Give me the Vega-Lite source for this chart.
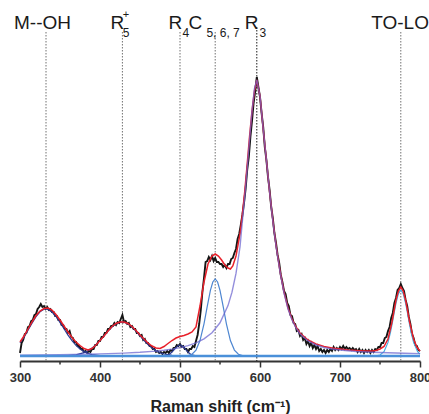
{
 "$schema": "https://vega.github.io/schema/vega-lite/v6.json",
 "width": 400, "height": 361,
 "autosize": {"type": "none"},
 "padding": {"left": 20, "top": 0, "right": 9, "bottom": 53},
 "background": "white",
 "config": {"view": {"stroke": null}, "font": "Liberation Sans"},
 "encoding": {
  "x": {"field": "x", "type": "quantitative", "scale": {"domain": [300, 800], "nice": false, "zero": false},
   "axis": {"values": [300, 400, 500, 600, 700, 800], "grid": false, "domainColor": "#333", "domainWidth": 2, "tickColor": "#333", "tickWidth": 1.5, "tickSize": 6,
    "labelFont": "Liberation Sans", "labelFontWeight": "bold", "labelFontSize": 13, "labelColor": "#333", "labelBaseline": "alphabetic", "labelPadding": 14.5, "labelFlush": false,
    "title": "Raman shift (cm⁻¹)", "titleFont": "Liberation Sans", "titleFontWeight": "bold", "titleFontSize": 16, "titleColor": "#222", "titleBaseline": "alphabetic", "titleY": 50.5}},
  "y": {"field": "y", "type": "quantitative", "scale": {"domain": [-5, 356], "nice": false, "zero": false}, "axis": null}
 },
 "datasets": {
  "assign": [
   {"x": 332.5, "y": 324, "y2": -5, "k": "a"},
   {"x": 428, "y": 324, "y2": -5, "k": "a"},
   {"x": 500, "y": 324, "y2": -5, "k": "a"},
   {"x": 544, "y": 324, "y2": -5, "k": "a"},
   {"x": 596, "y": 329, "y2": -5, "k": "b"},
   {"x": 776, "y": 324, "y2": -5, "k": "a"}
  ],
  "spectrum": [
   {"x":300,"y":3},{"x":302,"y":13},{"x":304,"y":16},{"x":306,"y":22},{"x":308,"y":23},{"x":310,"y":29},{"x":312,"y":30},{"x":314,"y":35},{"x":316,"y":36},{"x":318,"y":41},
   {"x":320,"y":42},{"x":322,"y":47},{"x":324,"y":49},{"x":326,"y":52},{"x":328,"y":49},{"x":330,"y":50},{"x":332,"y":47},{"x":334,"y":49},{"x":336,"y":46},{"x":338,"y":47},
   {"x":340,"y":44},{"x":342,"y":44},{"x":344,"y":40},{"x":346,"y":40},{"x":348,"y":36},{"x":350,"y":36},{"x":352,"y":31},{"x":354,"y":31},{"x":356,"y":27},{"x":358,"y":27},
   {"x":360,"y":23},{"x":362,"y":25},{"x":364,"y":19},{"x":366,"y":18},{"x":368,"y":14},{"x":370,"y":14},{"x":372,"y":10},{"x":374,"y":10},{"x":376,"y":7},{"x":378,"y":7},
   {"x":380,"y":4},{"x":382,"y":5},{"x":384,"y":3},{"x":386,"y":5},{"x":388,"y":4},{"x":390,"y":7},{"x":392,"y":7},{"x":394,"y":11},{"x":396,"y":11},{"x":398,"y":15},
   {"x":400,"y":15},{"x":402,"y":19},{"x":404,"y":19},{"x":406,"y":23},{"x":408,"y":23},{"x":410,"y":27},{"x":412,"y":27},{"x":414,"y":30},{"x":416,"y":30},{"x":418,"y":33},
   {"x":420,"y":31},{"x":422,"y":34},{"x":424,"y":33},{"x":426,"y":37},{"x":428,"y":41},{"x":430,"y":34},{"x":432,"y":35},{"x":434,"y":32},{"x":436,"y":33},{"x":438,"y":29},
   {"x":440,"y":30},{"x":442,"y":27},{"x":444,"y":27},{"x":446,"y":23},{"x":448,"y":23},{"x":450,"y":20},{"x":452,"y":21},{"x":454,"y":16},{"x":456,"y":17},{"x":458,"y":13},
   {"x":460,"y":13},{"x":462,"y":10},{"x":464,"y":10},{"x":466,"y":7},{"x":468,"y":7},{"x":470,"y":4},{"x":472,"y":5},{"x":474,"y":3},{"x":476,"y":4},{"x":478,"y":2},
   {"x":480,"y":4},{"x":482,"y":3},{"x":484,"y":5},{"x":486,"y":3},{"x":488,"y":6},{"x":490,"y":5},{"x":492,"y":8},{"x":494,"y":8},{"x":496,"y":11},{"x":498,"y":10},
   {"x":500,"y":12},{"x":502,"y":9},{"x":504,"y":10},{"x":506,"y":7},{"x":508,"y":7},{"x":510,"y":4},{"x":512,"y":7},{"x":514,"y":7},{"x":516,"y":10},{"x":518,"y":9},
   {"x":520,"y":15},{"x":522,"y":21},{"x":524,"y":32},{"x":526,"y":46},{"x":528,"y":64},{"x":530,"y":78},{"x":532,"y":94},{"x":534,"y":95},{"x":536,"y":99},{"x":538,"y":96},
   {"x":540,"y":100},{"x":542,"y":95},{"x":544,"y":98},{"x":546,"y":94},{"x":548,"y":94},{"x":550,"y":92},{"x":552,"y":92},{"x":554,"y":89},{"x":556,"y":91},{"x":558,"y":88},
   {"x":560,"y":92},{"x":562,"y":92},{"x":564,"y":97},{"x":566,"y":98},{"x":568,"y":103},{"x":570,"y":107},{"x":572,"y":117},{"x":574,"y":122},{"x":576,"y":131},{"x":578,"y":141},
   {"x":580,"y":153},{"x":582,"y":167},{"x":584,"y":186},{"x":586,"y":199},{"x":588,"y":219},{"x":590,"y":235},{"x":592,"y":253},{"x":594,"y":265},{"x":596,"y":279},{"x":598,"y":269},
   {"x":600,"y":259},{"x":602,"y":243},{"x":604,"y":229},{"x":606,"y":209},{"x":608,"y":196},{"x":610,"y":179},{"x":612,"y":166},{"x":614,"y":149},{"x":616,"y":138},{"x":618,"y":123},
   {"x":620,"y":113},{"x":622,"y":101},{"x":624,"y":93},{"x":626,"y":81},{"x":628,"y":74},{"x":630,"y":65},{"x":632,"y":62},{"x":634,"y":53},{"x":636,"y":50},{"x":638,"y":41},
   {"x":640,"y":40},{"x":642,"y":33},{"x":644,"y":32},{"x":646,"y":25},{"x":648,"y":26},{"x":650,"y":20},{"x":652,"y":22},{"x":654,"y":16},{"x":656,"y":18},{"x":658,"y":12},
   {"x":660,"y":15},{"x":662,"y":10},{"x":664,"y":13},{"x":666,"y":8},{"x":668,"y":11},{"x":670,"y":7},{"x":672,"y":10},{"x":674,"y":5},{"x":676,"y":7},{"x":678,"y":4},
   {"x":680,"y":6},{"x":682,"y":3},{"x":684,"y":6},{"x":686,"y":4},{"x":688,"y":7},{"x":690,"y":5},{"x":692,"y":9},{"x":694,"y":6},{"x":696,"y":8},{"x":698,"y":6},
   {"x":700,"y":9},{"x":702,"y":7},{"x":704,"y":10},{"x":706,"y":7},{"x":708,"y":9},{"x":710,"y":7},{"x":712,"y":8},{"x":714,"y":6},{"x":716,"y":8},{"x":718,"y":6},
   {"x":720,"y":7},{"x":722,"y":4},{"x":724,"y":7},{"x":726,"y":4},{"x":728,"y":6},{"x":730,"y":3},{"x":732,"y":6},{"x":734,"y":4},{"x":736,"y":6},{"x":738,"y":3},
   {"x":740,"y":6},{"x":742,"y":4},{"x":744,"y":7},{"x":746,"y":6},{"x":748,"y":9},{"x":750,"y":9},{"x":752,"y":13},{"x":754,"y":13},{"x":756,"y":18},{"x":758,"y":19},
   {"x":760,"y":25},{"x":762,"y":29},{"x":764,"y":38},{"x":766,"y":43},{"x":768,"y":53},{"x":770,"y":58},{"x":772,"y":66},{"x":774,"y":68},{"x":776,"y":72},{"x":778,"y":68},
   {"x":780,"y":65},{"x":782,"y":56},{"x":784,"y":50},{"x":786,"y":39},{"x":788,"y":32},{"x":790,"y":22},{"x":792,"y":18},{"x":794,"y":11},{"x":796,"y":10},{"x":798,"y":6},
   {"x":800,"y":5}
  ],
  "fit": [
   {"x":300,"y":14},{"x":305,"y":20},{"x":310,"y":27},{"x":315,"y":34},{"x":320,"y":40.5},{"x":325,"y":45},{"x":330,"y":47.5},{"x":335,"y":48},{"x":340,"y":46},{"x":345,"y":41.5},
   {"x":350,"y":36},{"x":355,"y":30},{"x":360,"y":24},{"x":365,"y":18.5},{"x":370,"y":14},{"x":375,"y":10.5},{"x":380,"y":7.5},{"x":385,"y":6},{"x":390,"y":7.5},{"x":395,"y":11},
   {"x":400,"y":15.5},{"x":405,"y":20},{"x":410,"y":25},{"x":415,"y":29.5},{"x":420,"y":32.5},{"x":425,"y":34},{"x":430,"y":34},{"x":435,"y":32.5},{"x":440,"y":29.5},{"x":445,"y":25.5},
   {"x":450,"y":21},{"x":455,"y":17},{"x":460,"y":13},{"x":465,"y":10},{"x":470,"y":8},{"x":475,"y":7.5},{"x":480,"y":9.5},{"x":485,"y":12.5},{"x":490,"y":15.5},{"x":495,"y":18},
   {"x":500,"y":19.5},{"x":505,"y":20.5},{"x":510,"y":22},{"x":515,"y":24},{"x":520,"y":29},{"x":525,"y":50},{"x":530,"y":74},{"x":535,"y":92},{"x":540,"y":100},{"x":544,"y":102},
   {"x":548,"y":100},{"x":552,"y":96},{"x":556,"y":91},{"x":560,"y":88},{"x":563,"y":87},{"x":566,"y":90},{"x":570,"y":100},{"x":575,"y":122},{"x":578,"y":142},{"x":581,"y":165},
   {"x":584,"y":192},{"x":587,"y":220},{"x":590,"y":245},{"x":593,"y":265},{"x":596,"y":276},{"x":600,"y":260},{"x":604,"y":227},{"x":608,"y":196},{"x":612,"y":164},{"x":616,"y":136},
   {"x":620,"y":111},{"x":625,"y":85},{"x":630,"y":64},{"x":635,"y":48},{"x":640,"y":37},{"x":645,"y":29},{"x":650,"y":23},{"x":660,"y":16},{"x":670,"y":12},{"x":680,"y":9.5},
   {"x":690,"y":8},{"x":700,"y":7},{"x":710,"y":6},{"x":720,"y":5.5},{"x":730,"y":5},{"x":740,"y":5},{"x":745,"y":5.5},{"x":750,"y":7},{"x":755,"y":9.5},{"x":760,"y":17},
   {"x":765,"y":34},{"x":770,"y":56},{"x":773,"y":65},{"x":776,"y":69},{"x":779,"y":65},{"x":782,"y":56},{"x":787,"y":34},{"x":792,"y":17},{"x":796,"y":9},{"x":800,"y":5}
  ],
  "comps": [
   {"x":300,"y":13.1,"peak":"P1"},{"x":305,"y":18.9,"peak":"P1"},{"x":310,"y":25.7,"peak":"P1"},{"x":315,"y":32.7,"peak":"P1"},{"x":320,"y":39.3,"peak":"P1"},{"x":325,"y":44.2,"peak":"P1"},
   {"x":330,"y":46.8,"peak":"P1"},{"x":332,"y":47,"peak":"P1"},{"x":335,"y":46.6,"peak":"P1"},{"x":340,"y":44,"peak":"P1"},{"x":345,"y":39.5,"peak":"P1"},{"x":350,"y":33.6,"peak":"P1"},
   {"x":355,"y":27.2,"peak":"P1"},{"x":360,"y":20.9,"peak":"P1"},{"x":365,"y":15.3,"peak":"P1"},{"x":370,"y":10.6,"peak":"P1"},{"x":375,"y":7,"peak":"P1"},{"x":380,"y":4.4,"peak":"P1"},
   {"x":385,"y":2.6,"peak":"P1"},{"x":390,"y":1.45,"peak":"P1"},{"x":400,"y":0.4,"peak":"P1"},{"x":410,"y":0.1,"peak":"P1"},{"x":430,"y":0,"peak":"P1"},
   {"x":350,"y":0.1,"peak":"P2"},{"x":360,"y":0.3,"peak":"P2"},{"x":370,"y":1.1,"peak":"P2"},{"x":380,"y":3.3,"peak":"P2"},{"x":385,"y":5.3,"peak":"P2"},{"x":390,"y":7.9,"peak":"P2"},
   {"x":395,"y":11.4,"peak":"P2"},{"x":400,"y":15.6,"peak":"P2"},{"x":405,"y":20.1,"peak":"P2"},{"x":410,"y":24.8,"peak":"P2"},{"x":415,"y":28.9,"peak":"P2"},{"x":420,"y":32.1,"peak":"P2"},
   {"x":425,"y":33.8,"peak":"P2"},{"x":427.5,"y":34,"peak":"P2"},{"x":430,"y":33.8,"peak":"P2"},{"x":435,"y":32.1,"peak":"P2"},{"x":440,"y":28.9,"peak":"P2"},{"x":445,"y":24.8,"peak":"P2"},
   {"x":450,"y":20.1,"peak":"P2"},{"x":455,"y":15.6,"peak":"P2"},{"x":460,"y":11.4,"peak":"P2"},{"x":465,"y":7.9,"peak":"P2"},{"x":470,"y":5.3,"peak":"P2"},{"x":475,"y":3.3,"peak":"P2"},
   {"x":480,"y":2,"peak":"P2"},{"x":490,"y":0.6,"peak":"P2"},{"x":500,"y":0.15,"peak":"P2"},{"x":515,"y":0,"peak":"P2"},
   {"x":470,"y":0,"peak":"P3"},{"x":480,"y":0.2,"peak":"P3"},{"x":485,"y":1.1,"peak":"P3"},{"x":487.5,"y":2.2,"peak":"P3"},{"x":490,"y":4,"peak":"P3"},{"x":492.5,"y":6.2,"peak":"P3"},
   {"x":495,"y":8.5,"peak":"P3"},{"x":497.5,"y":10.3,"peak":"P3"},{"x":500,"y":11,"peak":"P3"},{"x":502.5,"y":10.3,"peak":"P3"},{"x":505,"y":8.5,"peak":"P3"},{"x":507.5,"y":6.2,"peak":"P3"},
   {"x":510,"y":4,"peak":"P3"},{"x":512.5,"y":2.2,"peak":"P3"},{"x":515,"y":1.1,"peak":"P3"},{"x":520,"y":0.2,"peak":"P3"},{"x":530,"y":0,"peak":"P3"},
   {"x":500,"y":0,"peak":"P4"},{"x":510,"y":0.45,"peak":"P4"},{"x":515,"y":1.8,"peak":"P4"},{"x":520,"y":5.9,"peak":"P4"},{"x":525,"y":15.4,"peak":"P4"},{"x":530,"y":32.2,"peak":"P4"},
   {"x":534,"y":49.3,"peak":"P4"},{"x":538,"y":65.6,"peak":"P4"},{"x":541,"y":74,"peak":"P4"},{"x":544,"y":77,"peak":"P4"},{"x":547,"y":74,"peak":"P4"},{"x":550,"y":65.6,"peak":"P4"},
   {"x":554,"y":49.3,"peak":"P4"},{"x":558,"y":32.2,"peak":"P4"},{"x":563,"y":15.4,"peak":"P4"},{"x":568,"y":5.9,"peak":"P4"},{"x":573,"y":1.8,"peak":"P4"},{"x":578,"y":0.45,"peak":"P4"},
   {"x":590,"y":0,"peak":"P4"},
   {"x":720,"y":0,"peak":"P6"},{"x":745,"y":0.2,"peak":"P6"},{"x":750,"y":1,"peak":"P6"},{"x":755,"y":4.3,"peak":"P6"},{"x":760,"y":13.6,"peak":"P6"},{"x":763,"y":23.3,"peak":"P6"},
   {"x":765,"y":31.3,"peak":"P6"},{"x":768,"y":44.5,"peak":"P6"},{"x":770,"y":52.9,"peak":"P6"},{"x":773,"y":62.4,"peak":"P6"},{"x":776,"y":66,"peak":"P6"},{"x":779,"y":62.4,"peak":"P6"},
   {"x":782,"y":52.9,"peak":"P6"},{"x":784,"y":44.5,"peak":"P6"},{"x":787,"y":31.3,"peak":"P6"},{"x":789,"y":23.3,"peak":"P6"},{"x":792,"y":13.6,"peak":"P6"},{"x":797,"y":4.3,"peak":"P6"},
   {"x":800,"y":1.9,"peak":"P6"}
  ],
  "r3": [
   {"x":300,"y":0.9},{"x":350,"y":1.3},{"x":400,"y":2.1},{"x":430,"y":2.9},{"x":450,"y":3.7},{"x":470,"y":4.9},{"x":480,"y":5.8},{"x":490,"y":6.9},{"x":500,"y":8.4},{"x":510,"y":10.4},
   {"x":520,"y":13.1},{"x":530,"y":17.2},{"x":540,"y":23.3},{"x":550,"y":33.2},{"x":560,"y":50.4},{"x":565,"y":63.8},{"x":570,"y":82.6},{"x":575,"y":109},{"x":578,"y":135},{"x":581,"y":160},
   {"x":584,"y":188},{"x":587,"y":217},{"x":590,"y":245},{"x":593,"y":267},{"x":596,"y":276},{"x":600,"y":260},{"x":604,"y":227},{"x":608,"y":196},{"x":612,"y":164},{"x":616,"y":135},
   {"x":620,"y":110},{"x":625,"y":84},{"x":630,"y":63},{"x":635,"y":47},{"x":640,"y":36},{"x":645,"y":28},{"x":650,"y":22},{"x":660,"y":15},{"x":670,"y":11},{"x":680,"y":8.5},
   {"x":690,"y":7},{"x":700,"y":6},{"x":720,"y":4.5},{"x":740,"y":3.8},{"x":760,"y":3.2},{"x":780,"y":2.8},{"x":800,"y":2.4}
  ],
  "baseline": [{"x": 300, "x2": 800, "y": 0}],
  "minor": [
   {"x": 350, "y": -5, "y2": -8.5}, {"x": 450, "y": -5, "y2": -8.5}, {"x": 550, "y": -5, "y2": -8.5}, {"x": 650, "y": -5, "y2": -8.5}, {"x": 750, "y": -5, "y2": -8.5}
  ],
  "big": [
   {"x": 292.5, "y": 327, "t": "M--OH"},
   {"x": 413, "y": 327, "t": "R"},
   {"x": 485.5, "y": 327, "t": "R"},
   {"x": 510.5, "y": 327, "t": "C"},
   {"x": 581, "y": 327, "t": "R"},
   {"x": 739, "y": 327, "t": "TO-LO"}
  ],
  "sub": [
   {"x": 428.5, "y": 319.5, "t": "5"},
   {"x": 503, "y": 319.5, "t": "4"},
   {"x": 533, "y": 319.5, "t": "5, 6, 7"},
   {"x": 599.5, "y": 319.5, "t": "3"}
  ],
  "sup": [
   {"x": 428.5, "y": 338, "t": "+"}
  ]
 },
 "layer": [
  {"data": {"name": "assign"}, "mark": {"type": "rule", "strokeDash": [1.5, 1.5], "strokeWidth": 1},
   "encoding": {"y2": {"field": "y2"},
    "color": {"condition": {"test": "datum.k === 'b'", "value": "#1a1a1a"}, "value": "#707070"}}},
  {"data": {"name": "spectrum"}, "mark": {"type": "line", "color": "#151515", "strokeWidth": 1.9}},
  {"data": {"name": "comps"}, "mark": {"type": "line", "strokeWidth": 1.2},
   "encoding": {"color": {"field": "peak", "type": "nominal", "scale": {"domain": ["P1", "P2", "P3", "P4", "P6"], "range": ["#2b3990", "#2b3990", "#2b3990", "#4d86d1", "#45aee3"]}, "legend": null},
    "detail": {"field": "peak"}}},
  {"data": {"name": "fit"}, "mark": {"type": "line", "color": "#e8202a", "strokeWidth": 1.5}},
  {"data": {"name": "r3"}, "mark": {"type": "line", "color": "#6a62cf", "strokeWidth": 1.4, "opacity": 0.72}},
  {"data": {"name": "baseline"}, "mark": {"type": "rule", "color": "#4a90d9", "strokeWidth": 2.5}, "encoding": {"x2": {"field": "x2"}}},
  {"data": {"name": "minor"}, "mark": {"type": "rule", "color": "#333", "strokeWidth": 1.5}, "encoding": {"y2": {"field": "y2"}}},
  {"data": {"name": "big"}, "mark": {"type": "text", "align": "left", "baseline": "alphabetic", "fontSize": 19, "font": "Liberation Sans", "color": "#1a1a1a"},
   "encoding": {"text": {"field": "t"}}},
  {"data": {"name": "sub"}, "mark": {"type": "text", "align": "left", "baseline": "alphabetic", "fontSize": 12, "font": "Liberation Sans", "color": "#1a1a1a"},
   "encoding": {"text": {"field": "t"}}},
  {"data": {"name": "sup"}, "mark": {"type": "text", "align": "left", "baseline": "alphabetic", "fontSize": 11, "font": "Liberation Sans", "color": "#1a1a1a"},
   "encoding": {"text": {"field": "t"}}}
 ]
}
